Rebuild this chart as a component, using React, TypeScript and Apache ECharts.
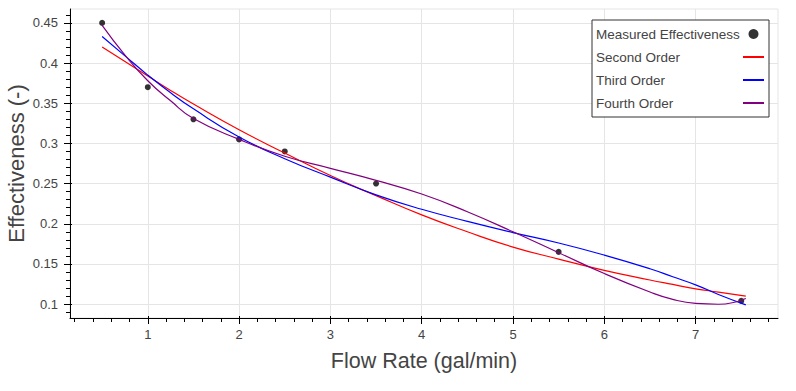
import React, { useEffect, useRef } from "react";
import * as echarts from "echarts";

// Measured data
const flowRate = [0.5, 1, 1.5, 2, 2.5, 3.5, 5.5, 7.5];
const measuredEffectiveness = [0.45, 0.37, 0.33, 0.305, 0.29, 0.25, 0.165, 0.104];

// Fitted curves
const fitFlowRate = [0.5, 0.75, 1, 1.25, 1.5, 2, 2.5, 3, 3.5, 4, 4.5, 5, 5.5, 6, 6.5, 6.75, 7, 7.25, 7.55];
const secondOrder = [0.42, 0.402, 0.384, 0.366, 0.349, 0.317, 0.288, 0.26, 0.235, 0.211, 0.19, 0.171, 0.156, 0.142, 0.13, 0.1245, 0.119, 0.115, 0.11];
const thirdOrder = [0.433, 0.409, 0.385, 0.363, 0.343, 0.308, 0.281, 0.258, 0.236, 0.218, 0.203, 0.189, 0.176, 0.161, 0.144, 0.134, 0.124, 0.112, 0.099];
const fourthOrder = [0.447, 0.41, 0.378, 0.353, 0.331, 0.305, 0.284, 0.269, 0.254, 0.237, 0.215, 0.19, 0.164, 0.138, 0.115, 0.1058, 0.1008, 0.0998, 0.107];

// Axis ticks
const xTicks = [1, 2, 3, 4, 5, 6, 7];
const yTicks = [0.1, 0.15, 0.2, 0.25, 0.3, 0.35, 0.4, 0.45];
const xMinorTicks: number[] = [];
for (let i = 1; i <= 39; i++) if (i % 5 !== 0) xMinorTicks.push(+(i * 0.2).toFixed(2));
const yMinorTicks: number[] = [];
for (let i = 9; i <= 46; i++) if (i % 5 !== 0) yMinorTicks.push(+(i * 0.01).toFixed(2));

const X_MIN = 0.148;
const X_MAX = 7.9025;
const Y_MIN = 0.0827;
const Y_MAX = 0.4673;

const FONT = 'Arial, "Liberation Sans", sans-serif';
const TEXT = "#444";

export default function App() {
  const ref = useRef<HTMLDivElement>(null);

  useEffect(() => {
    if (!ref.current) return;
    const chart = echarts.init(ref.current, undefined, { renderer: "svg" });

    const pair = (xs: number[], ys: number[]) => xs.map((x, i) => [x, ys[i]]);

    const overlayX = (values: number[], len: number, inside: boolean) => ({
      type: "value",
      min: X_MIN,
      max: X_MAX,
      position: "bottom",
      axisLine: { show: false },
      axisLabel: { show: false },
      splitLine: { show: false },
      axisTick: { show: true, inside, length: len, customValues: values, lineStyle: { color: "#000", width: 1 } },
    });
    const overlayY = (values: number[], len: number, inside: boolean) => ({
      type: "value",
      min: Y_MIN,
      max: Y_MAX,
      position: "left",
      axisLine: { show: false },
      axisLabel: { show: false },
      splitLine: { show: false },
      axisTick: { show: true, inside, length: len, customValues: values, lineStyle: { color: "#000", width: 1 } },
    });

    chart.setOption({
      animation: false,
      grid: {
        left: 70,
        right: 18,
        top: 9,
        bottom: 73,
        show: true,
        borderColor: "#e5e5e5",
        borderWidth: 1,
        backgroundColor: "#fff",
        containLabel: false,
        outerBoundsMode: "none",
      },
      xAxis: [
        {
          type: "value",
          min: X_MIN,
          max: X_MAX,
          splitNumber: 8,
          position: "bottom",
          name: "Flow Rate (gal/min)",
          nameLocation: "middle",
          nameGap: 32,
          nameTextStyle: { fontSize: 21.5, color: TEXT, fontFamily: FONT },
          axisLine: { show: true, onZero: false, lineStyle: { color: "#000", width: 1 } },
          axisTick: { show: true, length: 6, customValues: xTicks, lineStyle: { color: "#000", width: 1 } },
          axisLabel: { customValues: xTicks, margin: 10, fontSize: 13, color: TEXT, fontFamily: FONT },
          splitLine: { show: true, lineStyle: { color: "#e5e5e5", width: 1 } },
        },
        overlayX(xTicks, 2, true),
        overlayX(xMinorTicks, 4, false),
      ],
      yAxis: [
        {
          type: "value",
          min: Y_MIN,
          max: Y_MAX,
          splitNumber: 8,
          position: "left",
          name: "Effectiveness (-)",
          nameLocation: "middle",
          nameGap: 43,
          nameMoveOverlap: false,
          nameTextStyle: { fontSize: 22, color: TEXT, fontFamily: FONT },
          axisLine: { show: true, onZero: false, lineStyle: { color: "#000", width: 1 } },
          axisTick: { show: true, length: 6, customValues: yTicks, lineStyle: { color: "#000", width: 1 } },
          axisLabel: { customValues: yTicks, margin: 12, fontSize: 13, color: TEXT, fontFamily: FONT },
          splitLine: { show: true, lineStyle: { color: "#e5e5e5", width: 1 } },
        },
        overlayY(yTicks, 2, true),
        overlayY(yMinorTicks, 4, false),
      ],
      legend: {
        orient: "vertical",
        left: 592,
        top: 20,
        padding: [7, 4, 7, 4],
        itemGap: 9,
        itemWidth: 21,
        itemHeight: 10,
        align: "right",
        backgroundColor: "#fff",
        borderColor: "#333",
        borderWidth: 1,
        borderRadius: 0,
        formatter: (name: string) => `{t|${name}}`,
        textStyle: {
          rich: {
            t: { width: 142, align: "left", fontSize: 13.5, lineHeight: 14, color: TEXT, fontFamily: FONT },
          },
        },
        data: [
          { name: "Measured Effectiveness", icon: "circle" },
          { name: "Second Order", itemStyle: { opacity: 0 } },
          { name: "Third Order", itemStyle: { opacity: 0 } },
          { name: "Fourth Order", itemStyle: { opacity: 0 } },
        ],
      },
      series: [
        {
          name: "Measured Effectiveness",
          type: "scatter",
          data: pair(flowRate, measuredEffectiveness),
          symbol: "circle",
          symbolSize: 6,
          itemStyle: { color: "#000" },
          z: 2,
        },
        {
          name: "Second Order",
          type: "line",
          data: pair(fitFlowRate, secondOrder),
          smooth: true,
          symbol: "none",
          showSymbol: false,
          lineStyle: { color: "#ff0000", width: 1.2 },
          itemStyle: { color: "#ff0000" },
          z: 3,
        },
        {
          name: "Third Order",
          type: "line",
          data: pair(fitFlowRate, thirdOrder),
          smooth: true,
          symbol: "none",
          showSymbol: false,
          lineStyle: { color: "#0000ff", width: 1.2 },
          itemStyle: { color: "#0000ff" },
          z: 3,
        },
        {
          name: "Fourth Order",
          type: "line",
          data: pair(fitFlowRate, fourthOrder),
          smooth: true,
          symbol: "none",
          showSymbol: false,
          lineStyle: { color: "#800080", width: 1.2 },
          itemStyle: { color: "#800080" },
          z: 3,
        },
      ],
    });

    return () => chart.dispose();
  }, []);

  return (
    <div
      ref={ref}
      style={{ position: "absolute", left: 0, top: 0, width: 796, height: 391, background: "#fff" }}
    />
  );
}
